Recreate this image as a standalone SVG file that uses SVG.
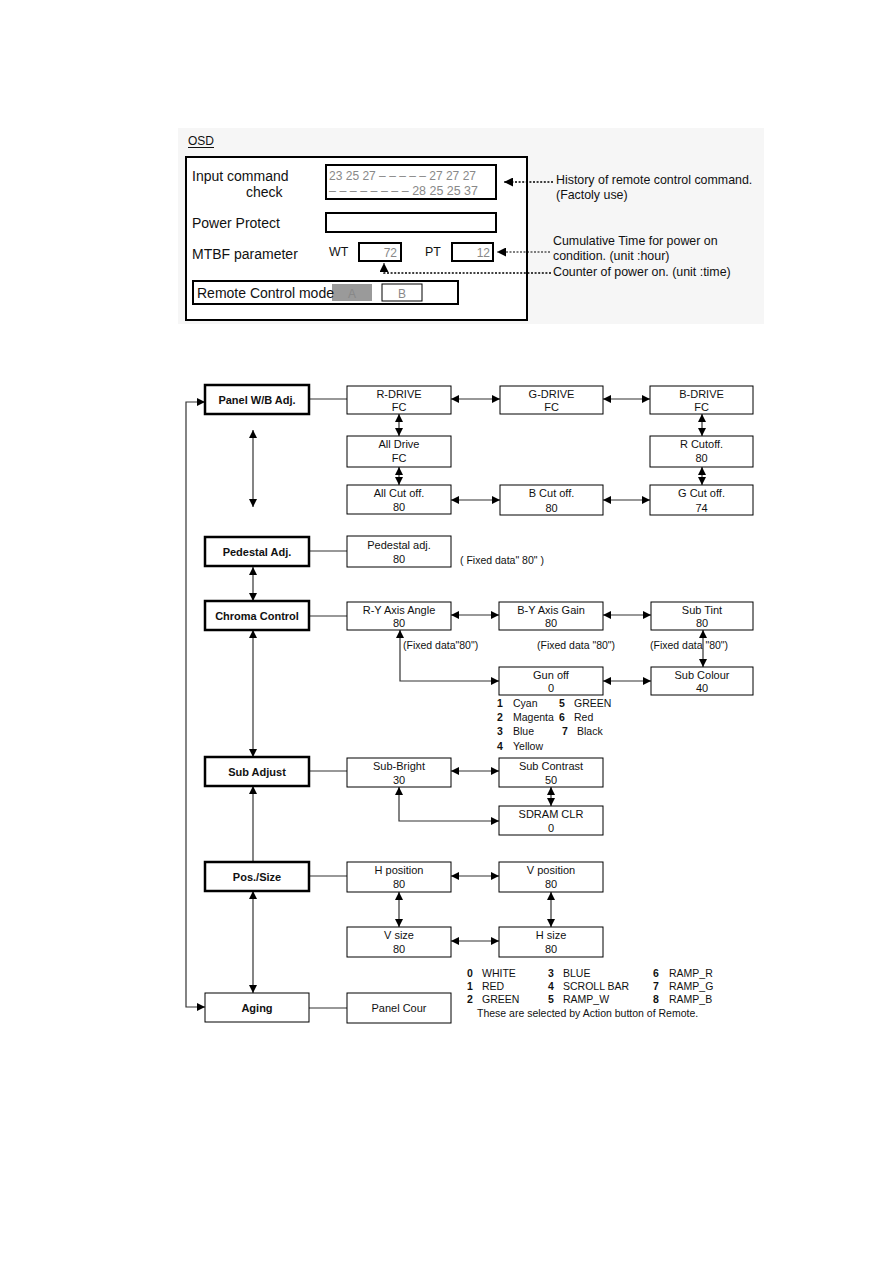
<svg xmlns="http://www.w3.org/2000/svg" width="893" height="1262" viewBox="0 0 893 1262">
<style>
.f{font-family:"Liberation Sans",Arial,sans-serif}
.box{fill:#fff;stroke:#000;stroke-width:1}
.bold{stroke-width:2.5}
.t{font-family:"Liberation Sans",Arial,sans-serif;font-size:11px;text-anchor:middle;fill:#111}
.tb{font-weight:bold}
.c{stroke:#333;stroke-width:1.2;fill:none}
.d2{marker-start:url(#ah);marker-end:url(#ah)}
.e{marker-end:url(#ah)}
.osd{font-family:"Liberation Sans",Arial,sans-serif;font-size:14px;fill:#111}
.ann{font-family:"Liberation Sans",Arial,sans-serif;font-size:12.4px;fill:#111}
.gr{font-family:"Liberation Sans",Arial,sans-serif;font-size:12px;fill:#888}
.lg{font-family:"Liberation Sans",Arial,sans-serif;font-size:10.5px;fill:#111}
.dot{stroke:#000;stroke-width:1.6;stroke-dasharray:2,1.6;fill:none}
</style>
<defs>
<marker id="ah" viewBox="0 0 8 8" refX="8" refY="4" markerWidth="8" markerHeight="8" markerUnits="userSpaceOnUse" orient="auto-start-reverse"><path d="M0,0 L8,4 L0,8 z" fill="#000"/></marker>
<marker id="ah2" viewBox="0 0 8 8" refX="8" refY="4" markerWidth="9" markerHeight="9" markerUnits="userSpaceOnUse" orient="auto"><path d="M0,0 L8,4 L0,8 z" fill="#000"/></marker>
</defs>
<rect width="893" height="1262" fill="#fff"/>

<!-- OSD section -->
<g id="osd">
<rect x="178" y="128" width="586" height="196" fill="#f6f6f6"/>
<text x="188" y="145" class="f" font-size="12" fill="#111">OSD</text>
<line x1="188" y1="147.5" x2="214" y2="147.5" stroke="#111" stroke-width="1"/>
<rect x="186" y="157" width="341" height="163" fill="#fff" stroke="#000" stroke-width="2"/>
<text x="192" y="181" class="osd">Input command</text>
<text x="246" y="197" class="osd">check</text>
<rect x="326" y="165" width="170" height="34" fill="#fff" stroke="#000" stroke-width="2"/>
<text x="329" y="180" class="gr" textLength="147" lengthAdjust="spacingAndGlyphs">23 25 27 – – – – – 27 27 27</text>
<text x="329" y="195" class="gr" textLength="149" lengthAdjust="spacingAndGlyphs">– – – – – – – – 28 25 25 37</text>
<text x="192" y="228" class="osd">Power Protect</text>
<rect x="326" y="213" width="170" height="19" fill="#fff" stroke="#000" stroke-width="2"/>
<text x="192" y="259" class="osd">MTBF parameter</text>
<text x="329" y="256" class="ann" font-size="13">WT</text>
<rect x="359" y="243" width="42" height="18" fill="#fff" stroke="#000" stroke-width="2"/>
<text x="397" y="257" class="gr" font-size="12.5" text-anchor="end">72</text>
<text x="425" y="256" class="ann" font-size="13">PT</text>
<rect x="452" y="243" width="41" height="18" fill="#fff" stroke="#000" stroke-width="2"/>
<text x="490" y="257" class="gr" font-size="12.5" text-anchor="end">12</text>
<rect x="193" y="281" width="265" height="23" fill="#fff" stroke="#000" stroke-width="2"/>
<rect x="332" y="284" width="40" height="17" fill="#9a9a9a"/>
<text x="197" y="298" class="osd">Remote Control mode</text>
<text x="352" y="298" class="gr" font-size="13" text-anchor="middle" fill="#b0b0b0">A</text>
<rect x="382" y="284" width="40" height="17" fill="#fff" stroke="#000" stroke-width="1"/>
<text x="402" y="298" class="gr" font-size="13" text-anchor="middle">B</text>
</g>

<g id="osd-notes">
<path d="M553,182 H504" class="dot" marker-end="url(#ah2)"/>
<text x="556" y="184" class="ann">History of remote control command.</text>
<text x="556" y="199" class="ann">(Factoly use)</text>
<path d="M550,252 H497" stroke="#000" stroke-width="1" stroke-dasharray="2,1.5" fill="none" marker-end="url(#ah2)"/>
<text x="553" y="245" class="ann" font-size="11.7">Cumulative Time for power on</text>
<text x="553" y="260" class="ann" font-size="11.7">condition. (unit :hour)</text>
<path d="M551,273 H384 V263" class="dot" marker-end="url(#ah2)"/>
<text x="553" y="276" class="ann">Counter of power on. (unit :time)</text>
</g>

<!-- connectors -->
<g id="connectors">
<path d="M309,399 H347" class="c"/>
<path d="M451,399 H500" class="c d2"/>
<path d="M603,399 H650" class="c d2"/>
<path d="M399,414 V436" class="c d2"/>
<path d="M399,467 V485" class="c d2"/>
<path d="M702,414 V436" class="c d2"/>
<path d="M702,467 V485" class="c d2"/>
<path d="M451,500 H500" class="c d2"/>
<path d="M603,500 H650" class="c d2"/>
<path d="M253,430 V507" class="c d2"/>
<path d="M205,1007 H186 V402 H205" class="c d2"/>
<path d="M309,551 H347" class="c"/>
<path d="M253,567 V601" class="c d2"/>
<path d="M309,616 H347" class="c"/>
<path d="M451,615 H499" class="c d2"/>
<path d="M603,615 H651" class="c d2"/>
<path d="M703,630 V667" class="c d2"/>
<path d="M603,681 H651" class="c d2"/>
<path d="M400,630 V681 H499" class="c d2"/>
<path d="M253,630 V757" class="c d2"/>
<path d="M309,771 H347" class="c"/>
<path d="M451,771 H499" class="c d2"/>
<path d="M551,787 V806" class="c d2"/>
<path d="M399,787 V821 H499" class="c d2"/>
<path d="M253,862 V786" class="c e"/>
<path d="M309,876 H347" class="c"/>
<path d="M451,876 H499" class="c d2"/>
<path d="M399,892 V927" class="c d2"/>
<path d="M551,892 V927" class="c d2"/>
<path d="M451,941 H499" class="c d2"/>
<path d="M253,891 V993" class="c d2"/>
<path d="M309,1008 H347" class="c"/>
</g>

<!-- nodes -->
<g id="panel-wb"><rect x="205" y="385" width="104" height="29" class="box bold"/><text x="257" y="403.5" class="t tb">Panel W/B Adj.</text></g>
<g id="r-drive"><rect x="347" y="386" width="104" height="28" class="box"/><text x="399" y="397.5" class="t">R-DRIVE</text><text x="399" y="411" class="t">FC</text></g>
<g id="g-drive"><rect x="500" y="386" width="103" height="28" class="box"/><text x="551.5" y="397.5" class="t">G-DRIVE</text><text x="551.5" y="411" class="t">FC</text></g>
<g id="b-drive"><rect x="650" y="386" width="103" height="28" class="box"/><text x="701.5" y="397.5" class="t">B-DRIVE</text><text x="701.5" y="411" class="t">FC</text></g>
<g id="all-drive"><rect x="347" y="436" width="104" height="31" class="box"/><text x="399" y="448" class="t">All Drive</text><text x="399" y="462" class="t">FC</text></g>
<g id="r-cutoff"><rect x="650" y="436" width="103" height="31" class="box"/><text x="701.5" y="448" class="t">R Cutoff.</text><text x="701.5" y="462" class="t">80</text></g>
<g id="all-cutoff"><rect x="347" y="485" width="104" height="29" class="box"/><text x="399" y="497" class="t">All Cut off.</text><text x="399" y="511" class="t">80</text></g>
<g id="b-cutoff"><rect x="500" y="485" width="103" height="30" class="box"/><text x="551.5" y="497" class="t">B Cut off.</text><text x="551.5" y="511.5" class="t">80</text></g>
<g id="g-cutoff"><rect x="650" y="485" width="103" height="30" class="box"/><text x="701.5" y="497" class="t">G Cut off.</text><text x="701.5" y="511.5" class="t">74</text></g>

<g id="pedestal"><rect x="205" y="537" width="104" height="29" class="box bold"/><text x="257" y="555.5" class="t tb">Pedestal Adj.</text></g>
<g id="pedestal-adj"><rect x="347" y="536" width="104" height="31" class="box"/><text x="399" y="548.5" class="t">Pedestal adj.</text><text x="399" y="563" class="t">80</text></g>
<text x="460" y="564" class="lg" font-size="10">( Fixed data" 80" )</text>

<g id="chroma"><rect x="205" y="601" width="104" height="29" class="box bold"/><text x="257" y="619.5" class="t tb">Chroma Control</text></g>
<g id="ry-angle"><rect x="347" y="602" width="104" height="28" class="box"/><text x="399" y="613.5" class="t">R-Y Axis Angle</text><text x="399" y="627" class="t">80</text></g>
<g id="by-gain"><rect x="499" y="602" width="104" height="28" class="box"/><text x="551" y="613.5" class="t">B-Y Axis Gain</text><text x="551" y="627" class="t">80</text></g>
<g id="sub-tint"><rect x="651" y="602" width="102" height="28" class="box"/><text x="702" y="613.5" class="t">Sub Tint</text><text x="702" y="627" class="t">80</text></g>
<text x="403" y="649" class="lg" font-size="10">(Fixed data"80")</text>
<text x="537" y="649" class="lg" font-size="10">(Fixed data "80")</text>
<text x="650" y="649" class="lg" font-size="10">(Fixed data  "80")</text>
<g id="gun-off"><rect x="499" y="667" width="104" height="28" class="box"/><text x="551" y="678.5" class="t">Gun off</text><text x="551" y="692" class="t">0</text></g>
<g id="sub-colour"><rect x="651" y="667" width="102" height="28" class="box"/><text x="702" y="678.5" class="t">Sub Colour</text><text x="702" y="692" class="t">40</text></g>
<g id="gun-off-list" class="lg" font-size="10">
<text x="497" y="707" font-weight="bold">1</text><text x="513" y="707">Cyan</text>
<text x="559" y="707" font-weight="bold">5</text><text x="574" y="707">GREEN</text>
<text x="497" y="721" font-weight="bold">2</text><text x="513" y="721">Magenta</text>
<text x="559" y="721" font-weight="bold">6</text><text x="574" y="721">Red</text>
<text x="497" y="735" font-weight="bold">3</text><text x="513" y="735">Blue</text>
<text x="562" y="735" font-weight="bold">7</text><text x="577" y="735">Black</text>
<text x="497" y="750" font-weight="bold">4</text><text x="513" y="750">Yellow</text>
</g>

<g id="sub-adjust"><rect x="205" y="757" width="104" height="29" class="box bold"/><text x="257" y="775.5" class="t tb">Sub Adjust</text></g>
<g id="sub-bright"><rect x="347" y="758" width="104" height="29" class="box"/><text x="399" y="769.5" class="t">Sub-Bright</text><text x="399" y="783.5" class="t">30</text></g>
<g id="sub-contrast"><rect x="499" y="758" width="104" height="29" class="box"/><text x="551" y="769.5" class="t">Sub Contrast</text><text x="551" y="783.5" class="t">50</text></g>
<g id="sdram-clr"><rect x="499" y="806" width="104" height="29" class="box"/><text x="551" y="817.5" class="t">SDRAM CLR</text><text x="551" y="831.5" class="t">0</text></g>

<g id="pos-size"><rect x="205" y="862" width="104" height="29" class="box bold"/><text x="257" y="880.5" class="t tb">Pos./Size</text></g>
<g id="h-position"><rect x="347" y="862" width="104" height="30" class="box"/><text x="399" y="873.5" class="t">H position</text><text x="399" y="888" class="t">80</text></g>
<g id="v-position"><rect x="499" y="862" width="104" height="30" class="box"/><text x="551" y="873.5" class="t">V position</text><text x="551" y="888" class="t">80</text></g>
<g id="v-size"><rect x="347" y="927" width="104" height="30" class="box"/><text x="399" y="938.5" class="t">V size</text><text x="399" y="953" class="t">80</text></g>
<g id="h-size"><rect x="499" y="927" width="104" height="30" class="box"/><text x="551" y="938.5" class="t">H size</text><text x="551" y="953" class="t">80</text></g>

<g id="aging"><rect x="205" y="993" width="104" height="29" class="box"/><text x="257" y="1011.5" class="t tb">Aging</text></g>
<g id="panel-cour"><rect x="347" y="993" width="104" height="30" class="box"/><text x="399" y="1012" class="t">Panel Cour</text></g>

<g id="legend" class="lg">
<text x="467" y="977" font-weight="bold">0</text><text x="482" y="977">WHITE</text>
<text x="548" y="977" font-weight="bold">3</text><text x="563" y="977">BLUE</text>
<text x="653" y="977" font-weight="bold">6</text><text x="669" y="977">RAMP_R</text>
<text x="467" y="990" font-weight="bold">1</text><text x="482" y="990">RED</text>
<text x="548" y="990" font-weight="bold">4</text><text x="563" y="990">SCROLL BAR</text>
<text x="653" y="990" font-weight="bold">7</text><text x="669" y="990">RAMP_G</text>
<text x="467" y="1003" font-weight="bold">2</text><text x="482" y="1003">GREEN</text>
<text x="548" y="1003" font-weight="bold">5</text><text x="563" y="1003">RAMP_W</text>
<text x="653" y="1003" font-weight="bold">8</text><text x="669" y="1003">RAMP_B</text>
<text x="477" y="1017" font-size="10.5">These are selected by Action button of Remote.</text>
</g>
</svg>
